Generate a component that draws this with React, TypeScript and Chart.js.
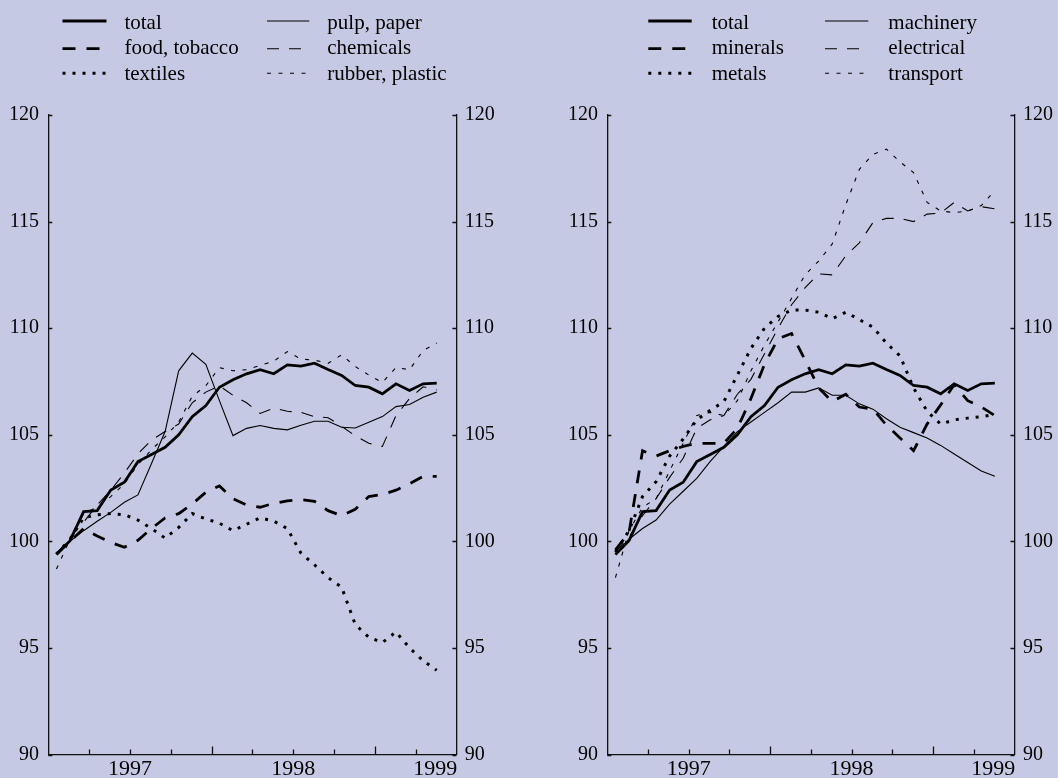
import React, { useEffect, useRef } from 'react';
import { Chart, registerables } from 'chart.js';

Chart.register(...registerables);

// ---- data ----
const months = [
  '1997-01', '1997-02', '1997-03', '1997-04', '1997-05', '1997-06', '1997-07', '1997-08', '1997-09', '1997-10', '1997-11', '1997-12',
  '1998-01', '1998-02', '1998-03', '1998-04', '1998-05', '1998-06', '1998-07', '1998-08', '1998-09', '1998-10', '1998-11', '1998-12',
  '1999-01', '1999-02', '1999-03', '1999-04', '1999-05',
];
const yearLabels = ['1997', '1998', '1999'];
const yTicks = [90, 95, 100, 105, 110, 115, 120];

const total = [99.38, 100.03, 101.39, 101.44, 102.41, 102.77, 103.74, 104.07, 104.41, 105.0, 105.85, 106.37, 107.23, 107.58, 107.86, 108.05, 107.86, 108.28, 108.22, 108.36, 108.06, 107.78, 107.31, 107.23, 106.92, 107.39, 107.08, 107.39, 107.42];

// left panel
const foodTobacco = [99.4, 100.0, 100.6, 100.25, 99.95, 99.72, 100.05, 100.6, 101.1, 101.3, 101.75, 102.3, 102.6, 102.0, 101.7, 101.6, 101.78, 101.9, 101.96, 101.88, 101.44, 101.2, 101.5, 102.1, 102.2, 102.4, 102.7, 103.05, 103.05];
const textiles = [99.4, 100.1, 101.1, 101.25, 101.3, 101.25, 101.0, 100.6, 100.15, 100.65, 101.3, 101.05, 100.85, 100.5, 100.8, 101.1, 100.95, 100.6, 99.45, 98.9, 98.3, 97.85, 96.1, 95.5, 95.25, 95.75, 95.0, 94.4, 93.95];
const pulpPaper = [99.4, 100.0, 100.5, 100.94, 101.36, 101.83, 102.18, 103.65, 105.15, 108.0, 108.83, 108.3, 106.6, 104.96, 105.3, 105.43, 105.3, 105.23, 105.45, 105.63, 105.63, 105.35, 105.32, 105.59, 105.85, 106.32, 106.42, 106.76, 107.0];
const chemicals = [99.4, 100.2, 100.9, 101.7, 102.4, 103.2, 104.1, 104.75, 105.15, 105.5, 106.5, 107.0, 107.3, 106.85, 106.5, 106.0, 106.25, 106.1, 106.05, 105.85, 105.8, 105.4, 104.95, 104.6, 104.45, 105.9, 106.7, 107.25, 107.1];
const rubberPlastic = [98.7, 100.1, 101.3, 101.6, 102.1, 102.7, 103.6, 104.3, 104.9, 105.6, 106.8, 107.3, 108.15, 108.0, 108.05, 108.25, 108.45, 108.9, 108.55, 108.5, 108.35, 108.75, 108.2, 107.8, 107.45, 108.15, 108.05, 108.95, 109.3];

// right panel
const minerals = [99.6, 100.4, 104.25, 104.0, 104.25, 104.45, 104.6, 104.6, 104.6, 105.3, 106.7, 108.3, 109.5, 109.75, 108.5, 107.2, 106.55, 106.9, 106.3, 106.2, 105.45, 104.85, 104.25, 105.5, 106.4, 107.35, 106.6, 106.3, 105.9];
const metals = [99.5, 100.5, 102.1, 102.8, 104.0, 104.8, 105.7, 106.15, 106.55, 107.8, 109.05, 110.0, 110.55, 110.85, 110.85, 110.75, 110.45, 110.75, 110.4, 110.05, 109.3, 108.7, 107.2, 106.1, 105.5, 105.7, 105.78, 105.85, 105.95];
const machinery = [99.4, 100.1, 100.6, 101.0, 101.75, 102.35, 102.95, 103.75, 104.45, 105.15, 105.6, 106.05, 106.5, 107.0, 107.0, 107.2, 106.85, 106.85, 106.45, 106.2, 105.75, 105.35, 105.1, 104.85, 104.5, 104.1, 103.7, 103.3, 103.05];
const electrical = [99.5, 100.2, 101.2, 102.0, 103.0, 103.9, 105.3, 105.7, 105.9, 106.9, 107.6, 108.8, 110.0, 111.1, 111.9, 112.55, 112.5, 113.4, 114.0, 114.95, 115.15, 115.15, 115.0, 115.35, 115.4, 115.9, 115.5, 115.7, 115.6];
const transport = [98.3, 100.5, 101.6, 102.0, 103.3, 104.6, 105.9, 106.05, 105.9, 106.6, 108.0, 109.2, 110.3, 111.4, 112.5, 113.15, 113.95, 115.8, 117.45, 118.15, 118.4, 117.8, 117.3, 115.9, 115.5, 115.42, 115.5, 115.75, 116.45];

const leftNames = ['total', 'food, tobacco', 'textiles', 'pulp, paper', 'chemicals', 'rubber, plastic'];
const leftSeries = [total, foodTobacco, textiles, pulpPaper, chemicals, rubberPlastic];
const rightNames = ['total', 'minerals', 'metals', 'machinery', 'electrical', 'transport'];
const rightSeries = [total, minerals, metals, machinery, electrical, transport];

// ---- styling / layout ----
const BG = '#c6c9e3';
const INK = '#000000';
const AXIS = '#111111';
const FONT = '"Liberation Serif", "Times New Roman", serif';

const LINE_STYLES = [
  { borderWidth: 2.8, borderDash: [] as number[] },
  { borderWidth: 2.8, borderDash: [13, 11] },
  { borderWidth: 3, borderDash: [3, 7] },
  { borderWidth: 1.1, borderDash: [] as number[] },
  { borderWidth: 1.1, borderDash: [12, 10] },
  { borderWidth: 1.1, borderDash: [4, 7.5] },
];

// x range expressed in month index units
const X_MIN = -0.6;
const X_MAX = 29.45;
const LABEL_FRACS = [0.2, 0.6, 0.948];

const PANELS = [
  {
    names: leftNames,
    series: leftSeries,
    padLeft: 8.3,
    padRight: 32.6,
    legend: { lineX: [62.5, 106.5, 267, 309.3], textX: [124.4, 327.3] },
  },
  {
    names: rightNames,
    series: rightSeries,
    padLeft: 38.3,
    padRight: 3.5,
    legend: { lineX: [119.3, 162.7, 296, 339.3], textX: [182.7, 359.3] },
  },
];

const LEGEND_LINE_Y = [21, 48.7, 73.2];
const LEGEND_BASE_Y = [28.5, 54.4, 80];

const axisTicksPlugin = {
  id: 'innerTicks',
  afterDraw(chart: any) {
    const { ctx, chartArea } = chart;
    const { left, right, bottom } = chartArea;
    const ys = chart.scales.y;
    const xs = chart.scales.x;
    ctx.save();
    ctx.strokeStyle = AXIS;
    ctx.lineWidth = 1.3;
    ctx.beginPath();
    for (const v of yTicks) {
      const y = Math.round(ys.getPixelForValue(v)) + 0.5;
      ctx.moveTo(left, y);
      ctx.lineTo(left + 4, y);
      ctx.moveTo(right, y);
      ctx.lineTo(right - 4, y);
    }
    for (let k = 1; k < 10; k++) {
      const x = Math.round(xs.getPixelForValue(X_MIN + (k * (X_MAX - X_MIN)) / 10)) + 0.5;
      const len = k % 4 === 0 ? 8 : 5;
      ctx.moveTo(x, bottom);
      ctx.lineTo(x, bottom - len);
    }
    ctx.stroke();
    ctx.restore();
  },
};

const legendPlugin = {
  id: 'twoColLegend',
  afterDraw(chart: any, _args: any, opts: any) {
    const { ctx } = chart;
    const ds = chart.data.datasets;
    ctx.save();
    ctx.font = `21px ${FONT}`;
    ctx.fillStyle = INK;
    ctx.textBaseline = 'alphabetic';
    ctx.textAlign = 'left';
    ds.forEach((d: any, i: number) => {
      const col = i < 3 ? 0 : 1;
      const row = i % 3;
      const x0 = opts.lineX[col * 2];
      const x1 = opts.lineX[col * 2 + 1];
      const y = LEGEND_LINE_Y[row];
      ctx.save();
      ctx.strokeStyle = d.borderColor;
      ctx.lineWidth = d.borderWidth;
      ctx.setLineDash(d.borderDash || []);
      ctx.lineCap = 'butt';
      ctx.beginPath();
      ctx.moveTo(x0, y);
      ctx.lineTo(x1, y);
      ctx.stroke();
      ctx.restore();
      ctx.fillText(d.label, opts.textX[col], LEGEND_BASE_Y[row]);
    });
    ctx.restore();
  },
};

function Panel({ idx }: { idx: number }) {
  const ref = useRef<HTMLCanvasElement | null>(null);
  useEffect(() => {
    const p = PANELS[idx];
    const datasets = p.series.map((vals, si) => ({
      label: p.names[si],
      data: months.map((_m, i) => ({ x: i, y: vals[i] })),
      borderColor: INK,
      backgroundColor: INK,
      borderWidth: LINE_STYLES[si].borderWidth,
      borderDash: LINE_STYLES[si].borderDash,
      borderCapStyle: 'butt',
      borderJoinStyle: 'miter',
      pointRadius: 0,
      tension: 0,
      fill: false,
      yAxisID: 'y',
    }));
    const yCommon = {
      min: 90,
      max: 120,
      grid: { display: false, drawTicks: false },
      border: { display: true, color: AXIS, width: 1.3 },
      afterFit: (s: any) => {
        s.width = 40;
      },
      afterBuildTicks: (s: any) => {
        s.ticks = yTicks.map((v) => ({ value: v }));
      },
    };
    const chart = new Chart(ref.current as HTMLCanvasElement, {
      type: 'line',
      data: { datasets } as any,
      plugins: [axisTicksPlugin, legendPlugin],
      options: {
        responsive: false,
        animation: false,
        devicePixelRatio: 1,
        parsing: false,
        layout: { padding: { top: 115, bottom: 0, left: p.padLeft, right: p.padRight } },
        plugins: {
          legend: { display: false },
          tooltip: { enabled: false },
          twoColLegend: p.legend,
        } as any,
        scales: {
          x: {
            type: 'linear',
            min: X_MIN,
            max: X_MAX,
            grid: { display: false, drawTicks: false },
            border: { display: true, color: AXIS, width: 1.3 },
            afterFit: (s: any) => {
              s.height = 23.5;
            },
            afterBuildTicks: (s: any) => {
              s.ticks = LABEL_FRACS.map((f) => ({ value: X_MIN + f * (X_MAX - X_MIN) }));
            },
            ticks: {
              autoSkip: false,
              maxRotation: 0,
              padding: 2,
              color: INK,
              font: { family: FONT, size: 22 },
              callback: (_v: any, i: number) => yearLabels[i],
            },
          },
          y: {
            ...yCommon,
            position: 'left',
            ticks: { padding: 9.4, color: INK, font: { family: FONT, size: 20 } },
          },
          y2: {
            ...yCommon,
            position: 'right',
            ticks: { padding: 8.4, color: INK, font: { family: FONT, size: 20 } },
          },
        } as any,
      },
    });
    return () => chart.destroy();
  }, [idx]);
  return <canvas ref={ref} width={529} height={778} style={{ display: 'block', width: 529, height: 778 }} />;
}

export default function App() {
  useEffect(() => {
    document.body.style.margin = '0';
    document.body.style.background = BG;
  }, []);
  return (
    <div style={{ position: 'relative', width: 1058, height: 778, background: BG, overflow: 'hidden' }}>
      <div style={{ position: 'absolute', left: 0, top: 0 }}>
        <Panel idx={0} />
      </div>
      <div style={{ position: 'absolute', left: 529, top: 0 }}>
        <Panel idx={1} />
      </div>
    </div>
  );
}
